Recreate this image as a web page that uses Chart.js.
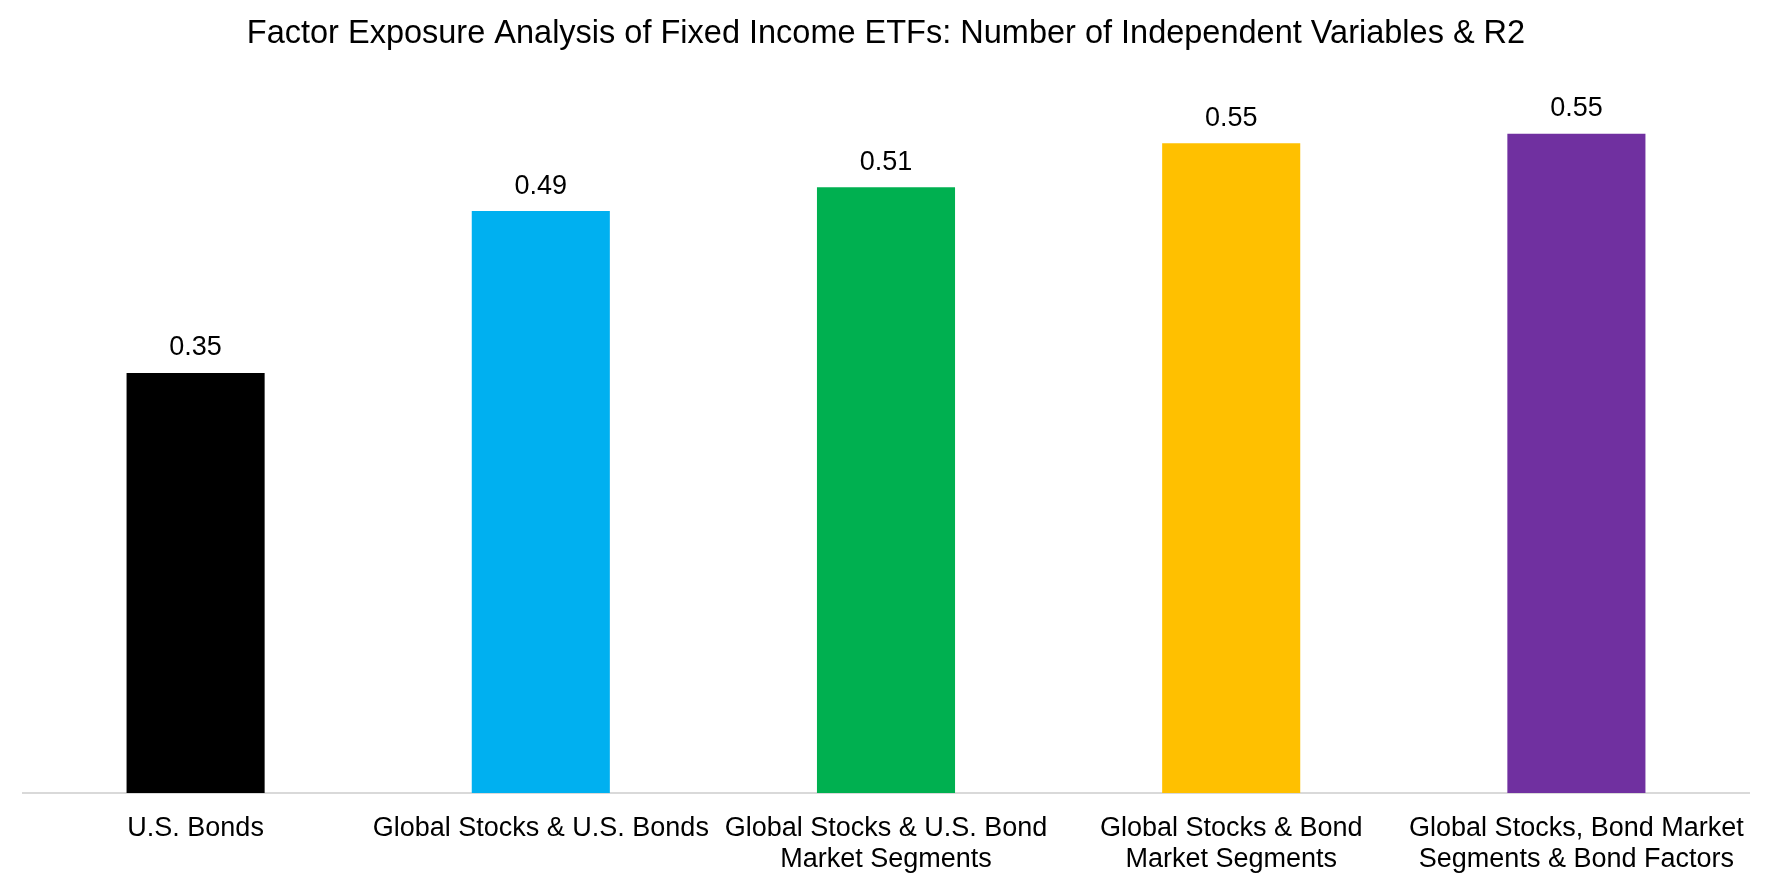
<!DOCTYPE html>
<html>
<head>
<meta charset="utf-8">
<script src="https://cdn.jsdelivr.net/npm/chart.js@4/dist/chart.umd.min.js"></script>
<style>
  html, body { margin: 0; padding: 0; background: #fff; }
  #wrap { width: 1772px; height: 886px; }
</style>
</head>
<body>
<div id="wrap"><canvas id="r2Chart" width="1772" height="886"></canvas></div>
<script>
// categories (model specifications) and their R2 values
const categories = [
	['U.S. Bonds'],
	['Global Stocks & U.S. Bonds'],
	['Global Stocks & U.S. Bond', 'Market Segments'],
	['Global Stocks & Bond', 'Market Segments'],
	['Global Stocks, Bond Market', 'Segments & Bond Factors']
];
const r2Values = [0.353, 0.489, 0.509, 0.546, 0.554];
const barColors = ['#000000', '#00B0F0', '#00B050', '#FFC000', '#7030A0'];

const fontFamily = '"Liberation Sans", Arial, sans-serif';

// draws the value above each bar
const valueLabels = {
	id: 'valueLabels',
	afterDatasetsDraw(chart) {
		const ctx = chart.ctx;
		const meta = chart.getDatasetMeta(0);
		ctx.save();
		ctx.font = '27px ' + fontFamily;
		ctx.fillStyle = '#000000';
		ctx.textAlign = 'center';
		ctx.textBaseline = 'middle';
		meta.data.forEach(function (bar, i) {
			ctx.fillText(r2Values[i].toFixed(2), bar.x, bar.y - 25);
		});
		ctx.restore();
	}
};

const chart = new Chart(document.getElementById('r2Chart'), {
	type: 'bar',
	data: {
		labels: categories,
		datasets: [{
			data: r2Values,
			backgroundColor: barColors,
			barPercentage: 0.4,
			categoryPercentage: 1.0
		}]
	},
	options: {
		responsive: false,
		animation: false,
		layout: {
			padding: { left: 23, right: 23, top: 0, bottom: 0 }
		},
		plugins: {
			legend: { display: false },
			tooltip: { enabled: false },
			title: {
				display: true,
				text: 'Factor Exposure Analysis of Fixed Income ETFs: Number of Independent Variables & R2',
				color: '#000000',
				font: { family: fontFamily, size: 32.5, weight: 'normal' },
				padding: { top: 15, bottom: 25 }
			}
		},
		scales: {
			x: {
				grid: { display: false, drawTicks: false },
				border: { display: true, color: '#d9d9d9', width: 2 },
				ticks: {
					color: '#000000',
					padding: 20,
					maxRotation: 0,
					autoSkip: false,
					font: { family: fontFamily, size: 27, lineHeight: 1.15 }
				},
				afterFit: function (scale) {
					scale.height = 93;
				}
			},
			y: {
				display: false,
				min: 0,
				max: 0.6
			}
		}
	},
	plugins: [valueLabels]
});
</script>
</body>
</html>
